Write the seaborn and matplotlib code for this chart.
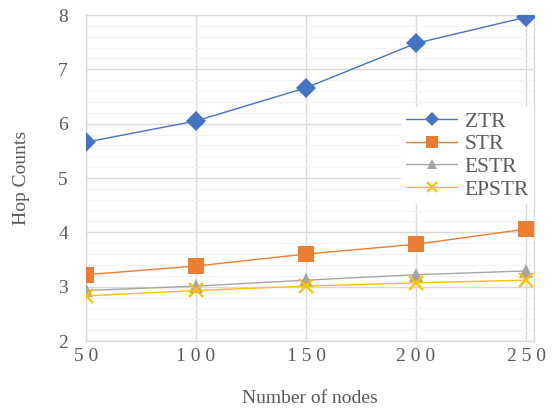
import matplotlib
matplotlib.use("Agg")
import matplotlib.pyplot as plt
import seaborn as sns
import pandas as pd
import numpy as np
from matplotlib.ticker import MultipleLocator

nodes = [50, 100, 150, 200, 250]
ztr = [5.66, 6.05, 6.66, 7.48, 7.96]
strv = [3.22, 3.38, 3.60, 3.78, 4.06]
estr = [2.93, 3.01, 3.12, 3.22, 3.29]
epstr = [2.83, 2.93, 3.01, 3.07, 3.12]
series_names = ["ZTR", "STR", "ESTR", "EPSTR"]
colors = ["#4472C4", "#ED7D31", "#A5A5A5", "#FFC000"]
markers = ["D", "s", "^", "x"]

df = pd.DataFrame({"nodes": nodes * 4,
                   "value": ztr + strv + estr + epstr,
                   "series": sum([[n] * len(nodes) for n in series_names], [])})

sns.set_style("white")
plt.rcParams['font.family'] = ['Liberation Serif', 'DejaVu Serif']

fig = plt.figure(figsize=(5.54, 4.09), dpi=100)
ax = fig.add_axes([86/554, 1-341/409, (534-86)/554, (341-15)/409])

sizes = [10.5, 12, 10, 10]
for name, c, m, ms in zip(series_names, colors, markers, sizes):
    sub = df[df.series == name]
    sns.lineplot(data=sub, x="nodes", y="value", ax=ax, color=c, marker=m,
                 markersize=ms, markeredgecolor=c, markeredgewidth=1.6 if m == "x" else 0,
                 linewidth=1.0, label=name, zorder=3)

ax.set_xlim(50, 253.6)
ax.set_ylim(2, 8)
ax.set_xticks(nodes)
ax.set_xticklabels([" ".join(str(n)) for n in nodes])
ax.yaxis.set_major_locator(MultipleLocator(1))
ax.yaxis.set_minor_locator(MultipleLocator(0.2))
ax.grid(which="major", color="#D9D9D9", linewidth=1.0, zorder=0)
ax.grid(which="minor", axis="y", color="#F2F2F2", linewidth=0.8, zorder=0)
ax.set_axisbelow(True)
for s in ax.spines.values():
    s.set_color("#D9D9D9")
    s.set_linewidth(1.0)
ax.tick_params(which="both", length=0, labelsize=14, labelcolor="#595959")
ax.tick_params(axis="y", pad=13)
ax.tick_params(axis="x", labelsize=14, pad=5)
ax.set_xlabel("Number of nodes", fontsize=14, color="#595959", labelpad=18)
ax.set_ylabel("Hop Counts", fontsize=14, color="#595959", labelpad=20)

leg = ax.legend(loc="upper left", bbox_to_anchor=(0.68, 0.75), frameon=True,
                facecolor="white", edgecolor="none", framealpha=1, fontsize=15.5,
                handlelength=2.4, labelspacing=0.12, borderpad=0.2, handletextpad=0.35,
                fancybox=False, markerscale=0.7)
for t in leg.get_texts():
    t.set_color("#595959")

fig.savefig("out.png", dpi=100)
